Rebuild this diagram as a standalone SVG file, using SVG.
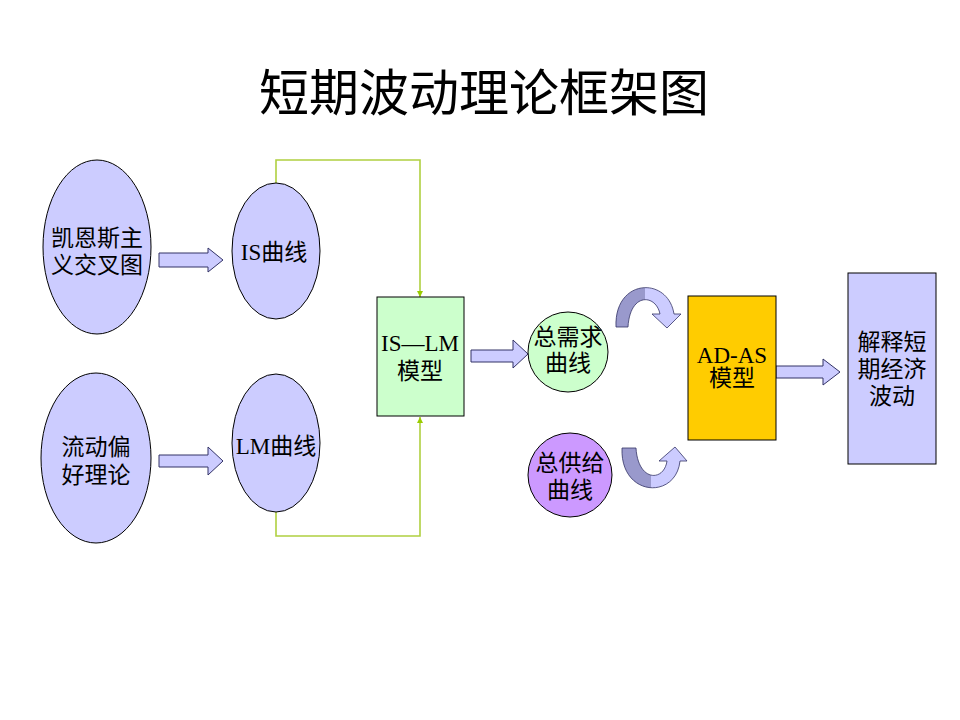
<svg xmlns="http://www.w3.org/2000/svg" width="960" height="720" viewBox="0 0 960 720">
<style>
  .t { font-family: "Liberation Serif", "Noto Sans CJK SC", serif; font-size: 23px; fill: #000; text-anchor: middle; }
  .title { font-family: "Liberation Serif", "Noto Sans CJK SC", serif; font-size: 50px; fill: #000; text-anchor: middle; }
  .ell { fill: #ccccff; stroke: #000; stroke-width: 1; }
  .blk { fill: #ccccff; stroke: #333366; stroke-width: 1; }
  .gl { fill: none; stroke: #b0d040; stroke-width: 1.6; }
</style>
<defs>
  <marker id="ga" viewBox="0 0 10 10" refX="10" refY="5" markerWidth="6" markerHeight="6" orient="auto" markerUnits="userSpaceOnUse">
    <path d="M0,0 L10,5 L0,10 Z" fill="#99cc00"/>
  </marker>
  <linearGradient id="cg" x1="0" y1="0" x2="1" y2="0">
    <stop offset="0" stop-color="#9999cc"/>
    <stop offset="0.45" stop-color="#9999cc"/>
    <stop offset="0.45" stop-color="#ccccff"/>
    <stop offset="1" stop-color="#ccccff"/>
  </linearGradient>
</defs>
<rect width="960" height="720" fill="#fff"/>
<text class="title" x="484" y="111">短期波动理论框架图</text>

<g id="connectors">
  <polyline class="gl" points="276,183 276,160 420,160 420,297" marker-end="url(#ga)"/>
  <polyline class="gl" points="276,512 276,536 420,536 420,417" marker-end="url(#ga)"/>
  <path class="blk" d="M159,253 L208,253 L208,248 L223,260 L208,272 L208,267 L159,267 Z"/>
  <path class="blk" d="M159,455 L208,455 L208,447 L223,461 L208,475 L208,467 L159,467 Z"/>
  <path class="blk" d="M471,350 L513,350 L513,340 L528,354 L513,368 L513,362 L471,362 Z"/>
  <path class="blk" d="M776,366 L823,366 L823,359 L840,372 L823,385 L823,378 L776,378 Z"/>
  <path d="M616,327 C614,278 668,276 674,314 L681,314 L667,328 L652,314 L660,314 C656,294 630,292 628,327 Z" fill="url(#cg)" stroke="#333366" stroke-width="0.8"/>
  <path d="M622,448 C620,497 676,500 680,461 L687,461 L675,447 L659,461 L667,461 C664,482 638,482 636,448 Z" fill="url(#cg)" stroke="#333366" stroke-width="0.8"/>
</g>

<g id="keynes">
  <ellipse class="ell" cx="97" cy="247" rx="54" ry="87"/>
  <text class="t" x="97" y="246">凯恩斯主</text>
  <text class="t" x="97" y="273">义交叉图</text>
</g>
<g id="is">
  <ellipse class="ell" cx="276" cy="251" rx="44" ry="68"/>
  <text class="t" x="274" y="260">IS曲线</text>
</g>
<g id="liquidity">
  <ellipse class="ell" cx="96" cy="458" rx="55" ry="85"/>
  <text class="t" x="96" y="455">流动偏</text>
  <text class="t" x="96" y="483">好理论</text>
</g>
<g id="lm">
  <ellipse class="ell" cx="276" cy="443" rx="44" ry="69"/>
  <text class="t" x="276" y="454">LM曲线</text>
</g>
<g id="islm">
  <rect x="377" y="297" width="87" height="119" fill="#ccffcc" stroke="#000" stroke-width="1"/>
  <text class="t" x="420" y="351">IS—LM</text>
  <text class="t" x="420" y="379">模型</text>
</g>
<g id="ad">
  <circle cx="568" cy="352" r="40" fill="#ccffcc" stroke="#000" stroke-width="1"/>
  <text class="t" x="568" y="345">总需求</text>
  <text class="t" x="568" y="371">曲线</text>
</g>
<g id="as">
  <circle cx="570" cy="475" r="42" fill="#cc99ff" stroke="#000" stroke-width="1"/>
  <text class="t" x="570" y="471">总供给</text>
  <text class="t" x="570" y="498">曲线</text>
</g>
<g id="adas">
  <rect x="688" y="296" width="88" height="144" fill="#ffcc00" stroke="#000" stroke-width="1"/>
  <text class="t" x="732" y="363">AD-AS</text>
  <text class="t" x="732" y="386">模型</text>
</g>
<g id="explain">
  <rect x="848" y="273" width="88" height="191" fill="#ccccff" stroke="#000" stroke-width="1"/>
  <text class="t" x="892" y="350">解释短</text>
  <text class="t" x="892" y="377">期经济</text>
  <text class="t" x="892" y="404">波动</text>
</g>
</svg>
